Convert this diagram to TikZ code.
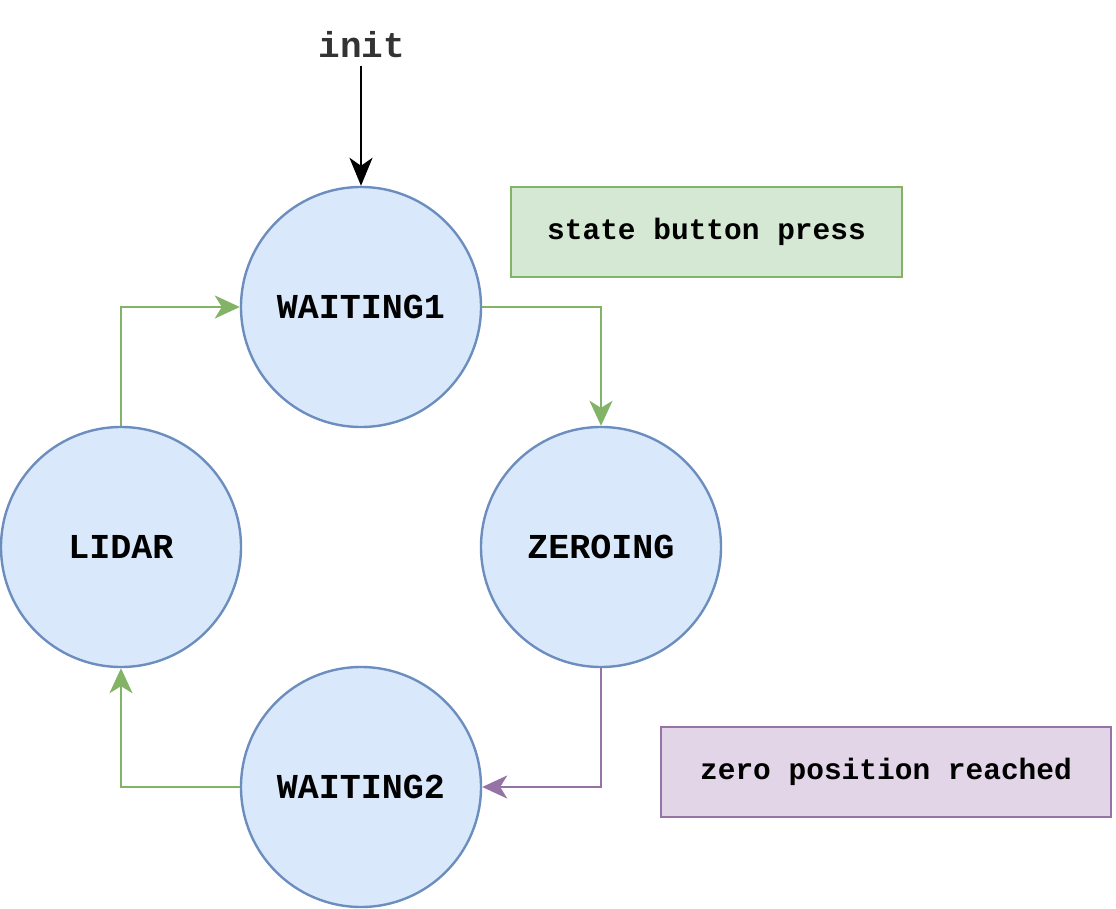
\documentclass[tikz,border=0pt]{standalone}
\usepackage{fontspec}
\setmonofont{Liberation Mono}
\usetikzlibrary{arrows.meta}
\definecolor{stfill}{HTML}{DAE8FC}
\definecolor{stdraw}{HTML}{6C8EBF}
\definecolor{gfill}{HTML}{D5E8D4}
\definecolor{gdraw}{HTML}{82B366}
\definecolor{pfill}{HTML}{E1D5E7}
\definecolor{pdraw}{HTML}{9673A6}
\definecolor{txtgray}{HTML}{333333}
\begin{document}
\begin{tikzpicture}[x=1pt,y=-1pt,
  state/.style={circle,draw=stdraw,fill=stfill,line width=2.4pt,minimum size=240pt,inner sep=0pt,
    font=\fontsize{35}{40}\selectfont\ttfamily\bfseries},
  labelbox/.style={rectangle,line width=2.4pt,inner sep=0pt,
    font=\fontsize{29.5}{34}\selectfont\ttfamily\bfseries},
  garrow/.style={draw=gdraw,line width=2.2pt,-{Stealth[length=25pt,width=23pt,inset=7pt]}},
  parrow/.style={draw=pdraw,line width=2.2pt,-{Stealth[length=25pt,width=23pt,inset=7pt]}}]
\useasboundingbox (0,0) rectangle (1116,909);
\node[state] (w1) at (361,307) {WAITING1};
\node[state] (z) at (601,547) {ZEROING};
\node[state] (l) at (121,547) {LIDAR};
\node[state] (w2) at (361,787) {WAITING2};
\node[labelbox,draw=gdraw,fill=gfill,minimum width=391pt,minimum height=90pt] (g) at (706.5,232) {state button press};
\node[labelbox,draw=pdraw,fill=pfill,minimum width=450pt,minimum height=90pt] (p) at (886,772) {zero position reached};
\node[font=\fontsize{36}{40}\selectfont\ttfamily\bfseries,text=txtgray,inner sep=0pt] (init) at (362,45) {init};
\coordinate (ia) at (361,66);
\draw[line width=2.4pt,-{Stealth[length=28pt,width=23pt,inset=8pt]}] (ia) -- (w1.north);
\draw[garrow] (w1.east) -| (z.north);
\draw[parrow] (z.south) |- (w2.east);
\draw[garrow] (w2.west) -| (l.south);
\draw[garrow] (l.north) |- (w1.west);
\end{tikzpicture}
\end{document}
